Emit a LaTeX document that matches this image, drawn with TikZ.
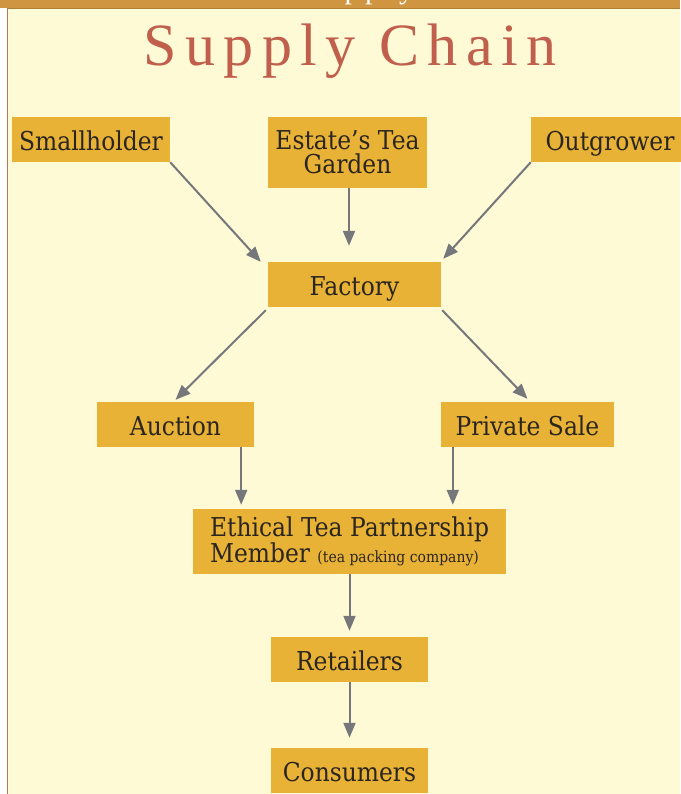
\documentclass[tikz,border=0pt]{standalone}
\usepackage{fontspec}
\setmainfont{DejaVu Serif}[FakeStretch=0.9]
\newfontfamily\titlefont{Liberation Serif}[LetterSpace=14]
\newfontfamily\headfont{Liberation Serif}[LetterSpace=18]
\usetikzlibrary{positioning,arrows.meta}
\definecolor{teabar}{HTML}{D09540}
\definecolor{teapaper}{HTML}{FFFAD6}
\definecolor{teabox}{HTML}{E8B236}
\definecolor{teaink}{HTML}{2B2520}
\definecolor{teagrey}{HTML}{76777B}
\definecolor{tearust}{HTML}{C0604C}
\definecolor{teaedge}{HTML}{B57A55}

\begin{document}
\begin{tikzpicture}[x=1pt, y=-1pt,
  box/.style={fill=teabox, text=teaink, font=\fontsize{26}{24}\selectfont,
              inner sep=0pt, minimum height=45pt, align=center},
  oneline/.style={box, text height=22pt, text depth=0pt},
  flow/.style={draw=teagrey, line width=2pt, -{Triangle[length=15pt,width=12pt]}}]
\useasboundingbox (0,0) rectangle (680,794);

% page frame
\fill[white] (0,0) rectangle (680,794);
\fill[teapaper] (7,9) rectangle (680,794);
\draw[teaedge, line width=1pt] (7.5,9) -- (7.5,794);
\fill[teabar] (0,0) rectangle (680,8);
\draw[teabar!85!black, line width=0.8pt] (7,8.6) -- (680,8.6);
\begin{scope}
\clip (0,0) rectangle (680,8);
\node[anchor=base west, text=white, font=\headfont\fontsize{30}{30}\selectfont, inner sep=0pt] (runhead) at (302,-1.5) {Supply Chain};
\end{scope}

\node[text=tearust, font=\titlefont\fontsize{60}{60}\selectfont, inner sep=0pt] (title) at (350,51) {Supply Chain};

% sources
\node[oneline, minimum width=158pt] (sm)  at (91,139.5)   {Smallholder};
\node[box, minimum width=159pt, minimum height=71pt] (est) at (347.5,152.5) {Estate’s Tea\\Garden};
\node[oneline, minimum width=158pt] (out) at (610,139.5)  {Outgrower};

\node[oneline, minimum width=173pt] (fac) at (354.5,284.5) {Factory};

\node[oneline, minimum width=157pt] (auc) at (175.5,424.5) {Auction};
\node[oneline, minimum width=173pt] (pri) at (527.5,424.5) {Private Sale};

\node[box, minimum width=313pt, minimum height=65pt, align=left] (etp) at (349.5,541.5)
  {Ethical Tea Partnership\\Member {\fontsize{15.5}{15}\selectfont(tea packing company)}};

\node[oneline, minimum width=157pt] (ret) at (349.5,659.5) {Retailers};
\node[oneline, minimum width=157pt] (con) at (349.5,770.5) {Consumers};

% arrows
\draw[flow] (sm.south east) -- ([xshift=-7pt]fac.north west);
\draw[flow, shorten >=16pt] ([xshift=1.5pt]est.south) -- ([xshift=1.5pt]est.south |- fac.north);
\draw[flow] (out.south west) -- ([shift={(2pt,3pt)}]fac.north east);
\draw[flow] ([shift={(-2pt,-3pt)}]fac.south west) -- ([yshift=2pt]auc.north);
\draw[flow] ([shift={(1pt,-3pt)}]fac.south east) -- ([yshift=3pt]pri.north);
\draw[flow, shorten >=4pt] ([xshift=-13pt]auc.south east) -- ([xshift=-13pt]auc.south east |- etp.north);
\draw[flow, shorten >=4pt] ([xshift=12pt]pri.south west) -- ([xshift=12pt]pri.south west |- etp.north);
\draw[flow, shorten >=6pt] (etp.south) -- (ret.north);
\draw[flow, shorten >=10pt] (ret.south) -- (con.north);
\end{tikzpicture}
\end{document}
